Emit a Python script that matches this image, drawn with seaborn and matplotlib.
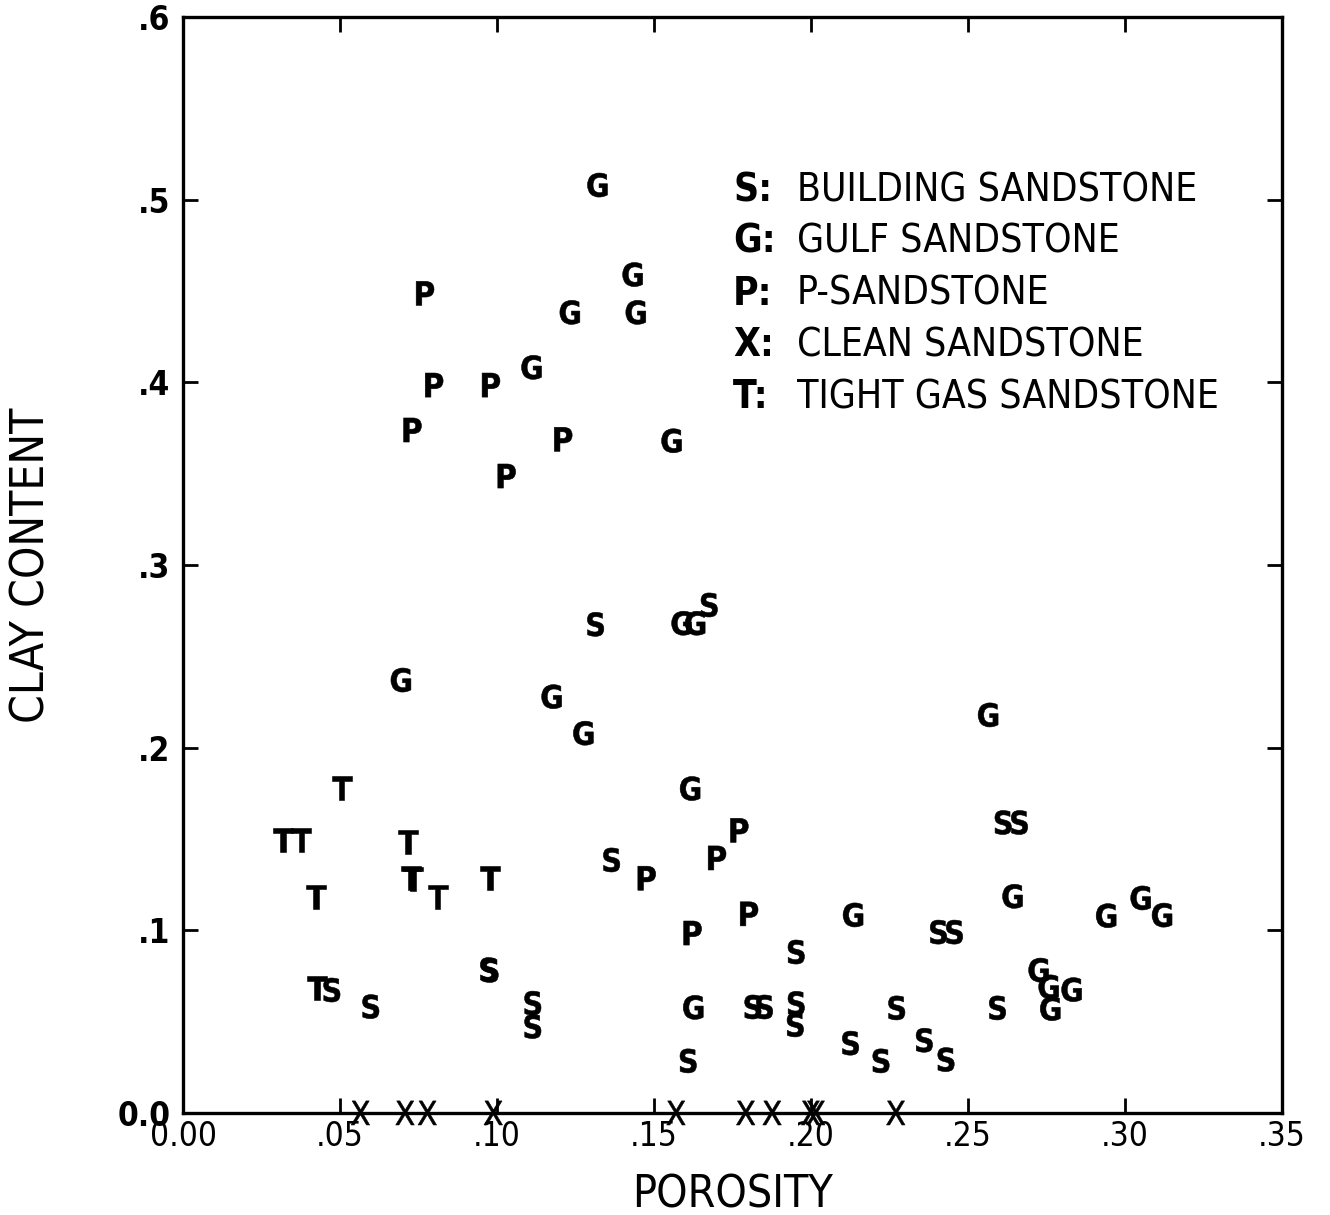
import matplotlib
matplotlib.use("Agg")
import matplotlib.pyplot as plt
import numpy as np
import pandas as pd
import seaborn as sns
from matplotlib.ticker import FixedLocator, FixedFormatter

# ---- porosity / clay content by sandstone group ----
s_porosity = [0.1314, 0.1676, 0.1365, 0.0474, 0.0598, 0.0973, 0.0978, 0.1114, 0.1114,
              0.2612, 0.2664, 0.1953, 0.2406, 0.2457, 0.1815, 0.1852, 0.1953, 0.1950,
              0.2273, 0.2594, 0.1609, 0.2126, 0.2223, 0.2361, 0.2430]
s_clay = [0.2675, 0.2781, 0.1385, 0.0673, 0.0582, 0.0785, 0.0780, 0.0601, 0.0473,
          0.1590, 0.1590, 0.0881, 0.0990, 0.0990, 0.0580, 0.0580, 0.0600, 0.0482,
          0.0575, 0.0575, 0.0285, 0.0382, 0.0285, 0.0398, 0.0292]

g_porosity = [0.1320, 0.1432, 0.1232, 0.1442, 0.1110, 0.1556, 0.0694, 0.1174, 0.1275,
              0.1588, 0.1631, 0.1615, 0.2564, 0.2642, 0.2134, 0.2940, 0.3050, 0.3118,
              0.2725, 0.2757, 0.2830, 0.2762, 0.1625]
g_clay = [0.5080, 0.4590, 0.4383, 0.4383, 0.4082, 0.3680, 0.2370, 0.2279, 0.2079,
          0.2681, 0.2681, 0.1776, 0.2179, 0.1186, 0.1084, 0.1080, 0.1177, 0.1083,
          0.0782, 0.0690, 0.0675, 0.0571, 0.0578]

p_porosity = [0.0771, 0.0800, 0.0981, 0.0731, 0.1211, 0.1031, 0.1477, 0.1701, 0.1772,
              0.1803, 0.1623]
p_clay = [0.4487, 0.3985, 0.3985, 0.3739, 0.3688, 0.3487, 0.1285, 0.1396, 0.1547,
          0.1090, 0.0985]

x_porosity = [0.0565, 0.0707, 0.0778, 0.0988, 0.1570, 0.1792, 0.1876, 0.1999, 0.2015,
              0.2270]
x_clay = [0.0] * 10

t_porosity = [0.0505, 0.0319, 0.0377, 0.0716, 0.0726, 0.0733, 0.0811, 0.0978, 0.0424,
              0.0426]
t_clay = [0.1778, 0.1494, 0.1494, 0.1485, 0.1287, 0.1283, 0.1184, 0.1285, 0.1184,
          0.0683]

codes = ["S", "G", "P", "X", "T"]
names = ["BUILDING SANDSTONE", "GULF SANDSTONE", "P-SANDSTONE",
         "CLEAN SANDSTONE", "TIGHT GAS SANDSTONE"]

x_ticks = [0.0, 0.05, 0.10, 0.15, 0.20, 0.25, 0.30, 0.35]
x_tick_labels = ["0.00", ".05", ".10", ".15", ".20", ".25", ".30", ".35"]
y_ticks = [0.0, 0.1, 0.2, 0.3, 0.4, 0.5, 0.6]
y_tick_labels = ["0.0", ".1", ".2", ".3", ".4", ".5", ".6"]

groups = {
    "S": (s_porosity, s_clay),
    "G": (g_porosity, g_clay),
    "P": (p_porosity, p_clay),
    "X": (x_porosity, x_clay),
    "T": (t_porosity, t_clay),
}
df = pd.concat(
    [pd.DataFrame({"porosity": px, "clay": cy, "code": c}) for c, (px, cy) in groups.items()],
    ignore_index=True,
)

sns.set_theme(style="white")
plt.rcParams["font.family"] = ["DejaVu Sans"]
plt.rcParams["font.stretch"] = "condensed"
plt.rcParams["text.color"] = "black"
plt.rcParams["axes.labelcolor"] = "black"
plt.rcParams["xtick.color"] = "black"
plt.rcParams["ytick.color"] = "black"
plt.rcParams["mathtext.fontset"] = "custom"
plt.rcParams["mathtext.rm"] = "DejaVu Sans:weight=bold:stretch=condensed"
plt.rcParams["mathtext.sf"] = "DejaVu Sans:stretch=condensed"

fig = plt.figure(figsize=(13.3, 12.15), dpi=100)
ax = fig.add_axes([0.1376, 0.0840, 0.8263, 0.9020])

# letters as plotting symbols; the clean-sandstone X is drawn in a lighter weight
letter_markers = {c: ("$\\mathsf{%s}$" if c == "X" else "$\\mathrm{%s}$") % c for c in codes}
sns.scatterplot(
    data=df, x="porosity", y="clay", style="code", style_order=codes,
    markers=letter_markers, color="black", edgecolor="black", linewidth=0.4,
    s=300, legend=False, clip_on=False, zorder=3, ax=ax,
)

ax.set_xlim(0, 0.35)
ax.set_ylim(0, 0.6)
ax.xaxis.set_major_locator(FixedLocator(x_ticks))
ax.xaxis.set_major_formatter(FixedFormatter(x_tick_labels))
ax.yaxis.set_major_locator(FixedLocator(y_ticks))
ax.yaxis.set_major_formatter(FixedFormatter(y_tick_labels))

for side in ["left", "right", "top", "bottom"]:
    ax.spines[side].set_visible(True)
    ax.spines[side].set_color("black")
    ax.spines[side].set_linewidth(2.4)

ax.tick_params(axis="both", which="major", direction="in", length=11, width=2,
               color="black", top=True, right=True, bottom=True, left=True)
ax.tick_params(axis="x", labelsize=24, pad=5)
ax.tick_params(axis="y", labelsize=24, pad=9)
for lab in ax.get_yticklabels():
    lab.set_fontweight("bold")

ax.set_xlabel("POROSITY", fontsize=32, labelpad=15)
ax.set_ylabel("CLAY CONTENT", fontsize=33)
ax.yaxis.set_label_coords(-0.1165, 0.5)

# key of letter codes
row_y0 = 0.842
row_dy = 0.0472
for i, (c, n) in enumerate(zip(codes, names)):
    y = row_y0 - i * row_dy
    ax.text(0.5005, y, c + ":", transform=ax.transAxes, fontsize=28,
            fontweight="bold", va="center", ha="left")
    ax.text(0.5587, y, n, transform=ax.transAxes, fontsize=28,
            va="center", ha="left")

fig.savefig("out.png", dpi=100, facecolor="white")
